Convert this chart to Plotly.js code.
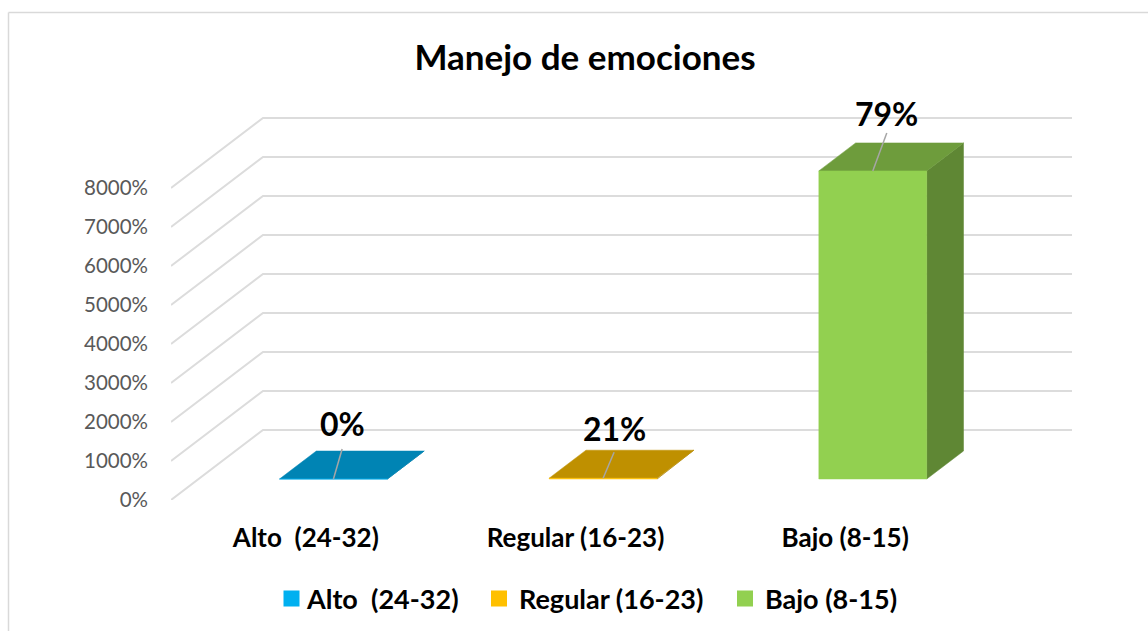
<!DOCTYPE html>
<html><head><meta charset="utf-8">
<script src="https://cdn.plot.ly/plotly-3.0.1.min.js"></script>
<style>html,body{margin:0;padding:0;background:#fff;overflow:hidden}</style>
</head><body><div id="chart" style="width:1148px;height:631px"></div>
<script>
const categories = ["Alto \u00a0(24-32)", "Regular (16-23)", "Bajo (8-15)"];
const values = [0, 0.21, 79];
const dataLabels = ["0%", "21%", "79%"];
const axisTicks = [0, 10, 20, 30, 40, 50, 60, 70, 80];
const frontColors = ["#00B0F0", "#FFC000", "#92D050"];
const topColors = ["#0084B4", "#BF9000", "#6E9C3C"];
const sideColors = ["#00739D", "#A67D00", "#5F8734"];

const W = 1148, H = 631, L = 171, R = 76, T = 117, B = 131;
const catPx = 269.67, pxPerUnit = 3.9;
const xMin = -0.5, xMax = xMin + (W - L - R) / catPx, yMax = (H - T - B) / pxPerUnit;
const wallDx = 92 / catPx, wallDy = 70 / pxPerUnit;
const barHalf = 0.2, d0 = 0.3, d1 = 0.7;
const P = (x, y, d) => [x + d * wallDx, y + d * wallDy];
const poly = (pts, color, name) => ({
  type: "scatter", mode: "lines", x: pts.map(p => p[0]).concat(pts[0][0]), y: pts.map(p => p[1]).concat(pts[0][1]),
  fill: "toself", fillcolor: color, line: {color: color, width: 0.5}, hoverinfo: "skip", showlegend: false, cliponaxis: false
});

const traces = [];
axisTicks.forEach(v => {
  const a = P(xMin, v, 0), b = P(xMin, v, 1);
  traces.push({type: "scatter", mode: "lines", x: [a[0], b[0], xMax], y: [a[1], b[1], b[1]],
    line: {color: "#DCDCDC", width: 2}, hoverinfo: "skip", showlegend: false, cliponaxis: false});
});
const leaderEnd = [[8.7, 30], [11, 26], [14, 38]];
values.forEach((v, i) => {
  const l = i - barHalf, r = i + barHalf;
  traces.push(poly([P(r, 0, d0), P(r, 0, d1), P(r, v, d1), P(r, v, d0)], sideColors[i]));
  traces.push(poly([P(l, v, d0), P(r, v, d0), P(r, v, d1), P(l, v, d1)], topColors[i]));
  traces.push(poly([P(l, 0, d0), P(r, 0, d0), P(r, v, d0), P(l, v, d0)], frontColors[i]));
  const s = P(i, v, d0);
  traces.push({type: "scatter", mode: "lines", x: [s[0], s[0] + leaderEnd[i][0] / catPx], y: [s[1], s[1] + leaderEnd[i][1] / pxPerUnit],
    line: {color: "#A6A6A6", width: 1.5}, hoverinfo: "skip", showlegend: false, cliponaxis: false});
  traces.push({type: "scatter", mode: "markers", x: [null], y: [null], name: categories[i],
    marker: {symbol: "square", size: 16, color: frontColors[i], line: {width: 0}},
    legend: i === 0 ? "legend" : "legend" + (i + 1), showlegend: true});
});

const labelDy = [26, 24, 19];
const labelFont = {family: "Lato", size: 32, color: "#000"};
const annotations = values.map((v, i) => {
  const s = P(i, v, d0);
  return {x: s[0] + leaderEnd[i][0] / catPx, y: s[1] + leaderEnd[i][1] / pxPerUnit, xref: "x", yref: "y",
    text: "<b>" + dataLabels[i] + "</b>", showarrow: false, font: labelFont, yanchor: "middle", xanchor: "center",
    yshift: labelDy[i]};
});

const legendFont = {family: "Lato", size: 27, color: "#000", weight: 700};
const leg = px => ({xref: "container", yref: "container", x: px / W, y: 1 - 599 / H, xanchor: "left", yanchor: "middle",
  orientation: "h", font: legendFont, bgcolor: "rgba(0,0,0,0)", borderwidth: 0, itemclick: false, itemdoubleclick: false});

const layout = {
  width: W, height: H, margin: {l: L, r: R, t: T, b: B}, paper_bgcolor: "#fff", plot_bgcolor: "rgba(0,0,0,0)",
  showlegend: true,
  title: {text: "<b>Manejo de emociones</b>", font: {family: "Lato", size: 35, color: "#000"},
    xref: "container", yref: "container", x: 585 / W, y: 1 - 58 / H, xanchor: "center", yanchor: "middle"},
  xaxis: {range: [xMin, xMax], tickmode: "array", tickvals: [0, 1, 2], ticktext: categories.map(c => "<b>" + c + "</b>"),
    showgrid: false, zeroline: false, showline: false, ticks: "", ticklabelstandoff: 20,
    tickfont: {family: "Lato", size: 26, color: "#000"}},
  yaxis: {range: [0, yMax], tickmode: "array", tickvals: axisTicks, tickformat: ".0%",
    showgrid: false, zeroline: false, showline: false, ticks: "", ticklabelstandoff: 22,
    tickfont: {family: "Lato", size: 20.5, color: "#595959"}},
  legend: leg(267), legend2: leg(479), legend3: leg(725),
  annotations: annotations,
  shapes: [
    {type: "line", xref: "paper", yref: "paper", x0: (8.5 - L) / (W - L - R), x1: 1 + R / (W - L - R) + 0.01,
     y0: (H - B - 12.5) / (H - T - B), y1: (H - B - 12.5) / (H - T - B), line: {color: "#D9D9D9", width: 1.5}},
    {type: "line", xref: "paper", yref: "paper", x0: (8.5 - L) / (W - L - R), x1: (8.5 - L) / (W - L - R),
     y0: (H - B - 12.5) / (H - T - B), y1: -B / (H - T - B) - 0.01, line: {color: "#D9D9D9", width: 1.5}}
  ]
};
Plotly.newPlot("chart", traces, layout, {displayModeBar: false, responsive: false}).then(() => {
  document.querySelectorAll(".legend .legendsymbols").forEach(g => g.setAttribute("transform", "translate(4.5,0)"));
});
</script></body></html>
